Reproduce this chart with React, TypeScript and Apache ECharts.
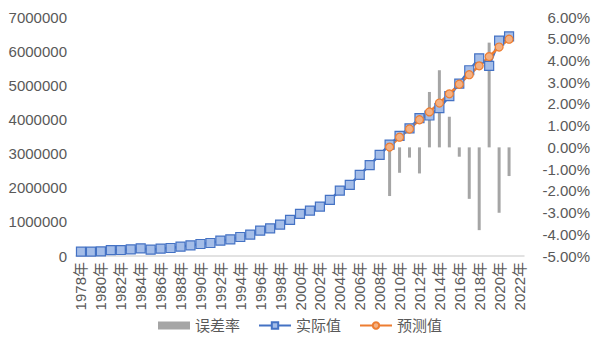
import React, { useEffect, useRef } from "react";
import * as echarts from "echarts";

const years: string[] = [];
for (let y = 1978; y <= 2022; y++) years.push(y + "年");

const actualValues = [
  126000, 130000, 135000, 170000, 175000, 195000, 225000, 185000, 215000, 235000,
  273000, 313000, 352000, 381000, 449000, 489000, 557000, 625000, 743000, 811000,
  919000, 1056000, 1232000, 1330000, 1447000, 1642000, 1916000, 2082000, 2375000, 2659000,
  2962000,
  3260000, 3520000, 3740000, 4040000, 4115000, 4330000, 4680000, 5050000, 5440000, 5790000,
  5570000, 6310000, 6430000,
];

const predictedYearsStart = 2009;
const predictedValues = [
  3190000, 3480000, 3720000, 3990000, 4220000, 4480000, 4750000, 5030000, 5310000, 5570000,
  5840000, 6120000, 6350000,
];

const errorRates = [-2.24, -1.17, -0.47, -1.2, 2.55, 3.55, 1.41, -0.43, -2.37, -3.81, 4.82, -3.01, -1.32];

const FONT = '"Liberation Sans", "Noto Sans CJK SC", sans-serif';

export default function App() {
  const ref = useRef<HTMLDivElement>(null);
  useEffect(() => {
    if (!ref.current) return;
    const chart = echarts.init(ref.current, undefined, { renderer: "svg" });
    const offset = predictedYearsStart - 1978;
    const pred = years.map((_, i) => (i >= offset && i - offset < predictedValues.length ? predictedValues[i - offset] : null));
    const err = years.map((_, i) => (i >= offset && i - offset < errorRates.length ? errorRates[i - offset] : null));
    const act = years.map((_, i) => (i < actualValues.length ? actualValues[i] : null));
    chart.setOption({
      animation: false,
      textStyle: { fontFamily: FONT },
      grid: { left: 76, right: 76, top: 17, bottom: 104 },
      legend: {
        bottom: 22,
        left: "center",
        itemWidth: 32,
        itemHeight: 8,
        itemGap: 18,
        textStyle: { fontSize: 15, color: "#595959", fontFamily: FONT },
        data: [
          { name: "误差率", icon: "rect" },
          { name: "实际值" },
          { name: "预测值" },
        ],
      },
      xAxis: {
        type: "category",
        data: years,
        boundaryGap: true,
        axisLine: { show: true, lineStyle: { color: "#d9d9d9", width: 1.5 } },
        axisTick: { show: false },
        axisLabel: {
          interval: 1,
          rotate: 90,
          fontSize: 15,
          color: "#595959",
          margin: 6,
          fontFamily: FONT,
        },
      },
      yAxis: [
        {
          type: "value",
          min: 0,
          max: 7000000,
          interval: 1000000,
          splitLine: { show: false },
          axisLine: { show: false },
          axisTick: { show: false },
          axisLabel: {
            fontSize: 15,
            color: "#595959",
            margin: 9,
            fontFamily: FONT,
            formatter: (v: number) => String(v),
          },
        },
        {
          type: "value",
          min: -5,
          max: 6,
          interval: 1,
          position: "right",
          splitLine: { show: false },
          axisLine: { show: false },
          axisTick: { show: false },
          axisLabel: {
            fontSize: 15,
            color: "#595959",
            align: "right",
            margin: 66,
            fontFamily: FONT,
            formatter: (v: number) => v.toFixed(2) + "%",
          },
        },
      ],
      series: [
        {
          name: "误差率",
          type: "bar",
          yAxisIndex: 1,
          data: err,
          barWidth: 3,
          itemStyle: { color: "#a5a5a5" },
        },
        {
          name: "实际值",
          type: "line",
          yAxisIndex: 0,
          data: act,
          symbol: "rect",
          symbolSize: 9,
          showAllSymbol: true,
          lineStyle: { color: "#4472c4", width: 2.5 },
          itemStyle: { color: "#a4bde8", borderColor: "#4472c4", borderWidth: 1.2 },
        },
        {
          name: "预测值",
          type: "line",
          yAxisIndex: 0,
          data: pred,
          symbol: "circle",
          symbolSize: 8,
          showAllSymbol: true,
          lineStyle: { color: "#ed7d31", width: 2.5 },
          itemStyle: { color: "#f4b183", borderColor: "#ed7d31", borderWidth: 1.2 },
        },
      ],
    });
    return () => chart.dispose();
  }, []);
  return <div ref={ref} style={{ position: "absolute", left: 0, top: 0, width: 600, height: 360 }} />;
}
